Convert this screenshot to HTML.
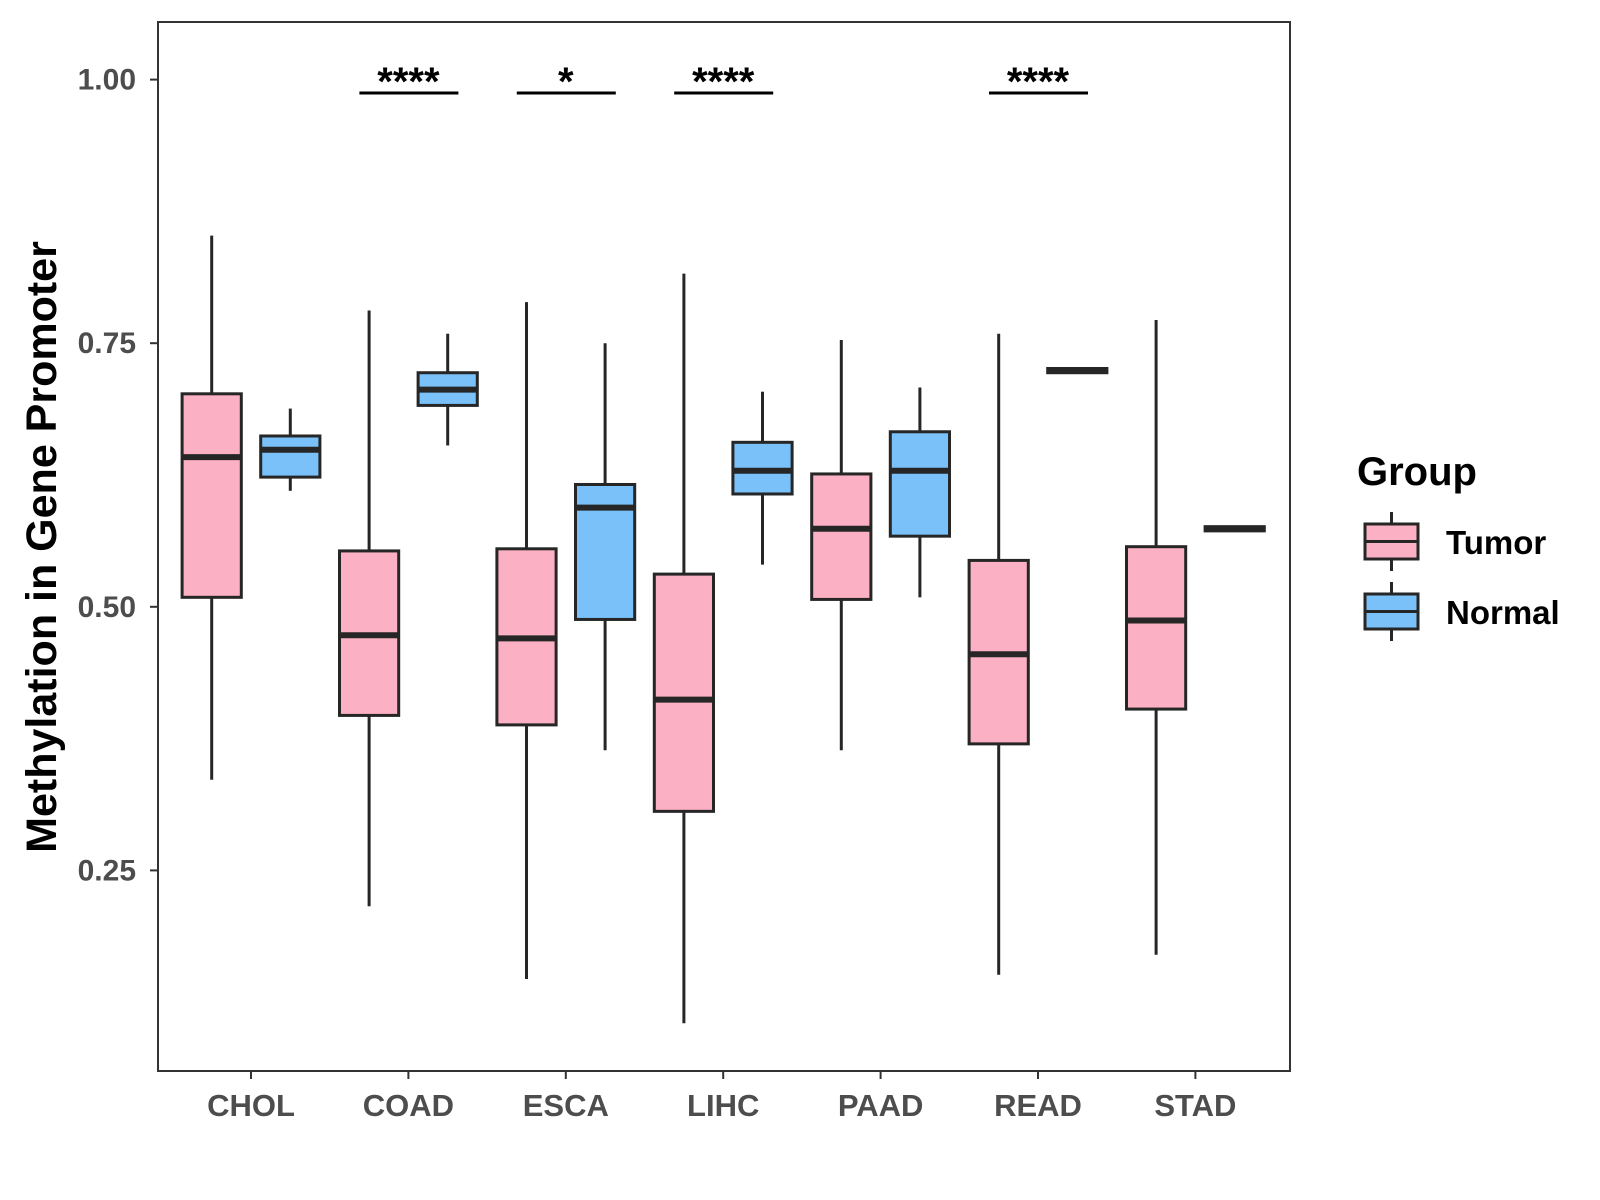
<!DOCTYPE html>
<html><head><meta charset="utf-8"><style>
body{margin:0;background:#fff;}
svg{display:block;font-family:"Liberation Sans",Arial,sans-serif;}
</style></head><body>
<svg id="chart" width="1600" height="1200">
<rect x="0" y="0" width="1600" height="1200" fill="#fff"/>
<g id="plot"></g>
</svg>
<script>
const categories=["CHOL","COAD","ESCA","LIHC","PAAD","READ","STAD"];
const tumorLow=[0.336,0.216,0.147,0.105,0.364,0.151,0.170];
const tumorQ1=[0.509,0.397,0.388,0.306,0.507,0.370,0.403];
const tumorMed=[0.642,0.473,0.470,0.412,0.574,0.455,0.487];
const tumorQ3=[0.702,0.553,0.555,0.531,0.626,0.544,0.557];
const tumorHigh=[0.852,0.781,0.789,0.816,0.753,0.759,0.772];
const normalLow=[0.610,0.653,0.364,0.540,0.509,0.724,0.574];
const normalQ1=[0.623,0.691,0.488,0.607,0.567,0.722,0.572];
const normalMed=[0.649,0.706,0.594,0.629,0.629,0.724,0.574];
const normalQ3=[0.662,0.722,0.616,0.656,0.666,0.726,0.576];
const normalHigh=[0.688,0.759,0.750,0.704,0.708,0.724,0.574];
const yTicks=[0.25,0.50,0.75,1.00];
const yTickLabels=["0.25","0.50","0.75","1.00"];
const sigCategories=["COAD","ESCA","LIHC","READ"];
const sigLabels=["****","*","****","****"];

const NS="http://www.w3.org/2000/svg";
const g=document.getElementById('plot');
const PL=158,PR=1290,PT=22,PB=1071;
function y(v){return 606.8-(v-0.5)*1054.4;}
function xc(i){return 251+i*157.4;}
function mk(tag,attrs,parent){const e=document.createElementNS(NS,tag);for(const k in attrs)e.setAttribute(k,attrs[k]);(parent||g).appendChild(e);return e;}

const panel=mk('rect',{x:PL,y:PT,width:PR-PL,height:PB-PT,fill:'none',stroke:'#333',"stroke-width":2});



yTicks.forEach((t,i)=>{
  const tk=mk('line',{x1:PL-8,x2:PL,y1:y(t),y2:y(t),stroke:'#333',"stroke-width":2});
  
  
  const tx=mk('text',{x:PL-22,y:y(t)+10,"text-anchor":'end',"font-size":30,"font-weight":'bold',fill:'#4d4d4d'});
  tx.textContent=yTickLabels[i];
  
  
});
categories.forEach((c,i)=>{
  const tk=mk('line',{x1:xc(i),x2:xc(i),y1:PB,y2:PB+8,stroke:'#333',"stroke-width":2});
  
  
  const tx=mk('text',{x:xc(i),y:PB+45,"text-anchor":'middle',"font-size":31,"font-weight":'bold',fill:'#4d4d4d'});
  tx.textContent=c;
  
  
});

function box(cx,lo,q1,md,q3,hi,fill,name){
  const grp=mk('g',{});
  
  
  const w=59.2;
  mk('line',{x1:cx,x2:cx,y1:y(hi),y2:y(q3),stroke:'#262626',"stroke-width":3},grp);
  mk('line',{x1:cx,x2:cx,y1:y(q1),y2:y(lo),stroke:'#262626',"stroke-width":3},grp);
  const h=Math.max(y(q1)-y(q3),0.5);
  mk('rect',{x:cx-w/2,y:y(q3),width:w,height:h,fill:fill,stroke:'#262626',"stroke-width":3},grp);
  mk('line',{x1:cx-w/2,x2:cx+w/2,y1:y(md),y2:y(md),stroke:'#262626',"stroke-width":6},grp);
}
categories.forEach((c,i)=>{
  box(xc(i)-39.3,tumorLow[i],tumorQ1[i],tumorMed[i],tumorQ3[i],tumorHigh[i],'#fcb0c3','box-tumor-'+c.toLowerCase());
  box(xc(i)+39.3,normalLow[i],normalQ1[i],normalMed[i],normalQ3[i],normalHigh[i],'#79c1f8','box-normal-'+c.toLowerCase());
});

sigCategories.forEach((c,k)=>{
  const i=categories.indexOf(c);
  const ln=mk('line',{x1:xc(i)-49,x2:xc(i)+50,y1:93,y2:93,stroke:'#000',"stroke-width":3});
  
  
  const tx=mk('text',{x:xc(i),y:95,"text-anchor":'middle',"font-size":40,"font-weight":'bold',fill:'#000'});
  tx.textContent=sigLabels[k];
  
  
});

const yt=mk('text',{x:0,y:0,transform:'translate(56,547) rotate(-90)',"text-anchor":'middle',"font-size":43,"font-weight":'bold',fill:'#000'});
yt.textContent='Methylation in Gene Promoter';



const lg=mk('g',{});


const lt=mk('text',{x:1357,y:485,"font-size":40,"font-weight":'bold',fill:'#000'},lg);
lt.textContent='Group';


[["Tumor",'#fcb0c3',524],["Normal",'#79c1f8',594]].forEach(([lab,col,top])=>{
  const e=mk('g',{},lg);
  
  
  const cx=1391.5;
  mk('line',{x1:cx,x2:cx,y1:top-12,y2:top+47,stroke:'#262626',"stroke-width":3},e);
  mk('rect',{x:1365,y:top,width:53,height:35,fill:col,stroke:'#262626',"stroke-width":3},e);
  mk('line',{x1:1365,x2:1418,y1:top+17.5,y2:top+17.5,stroke:'#262626',"stroke-width":3},e);
  const t=mk('text',{x:1446,y:top+30,"font-size":33,"font-weight":'bold',fill:'#000'},e);
  t.textContent=lab;
});
</script>
</body></html>
